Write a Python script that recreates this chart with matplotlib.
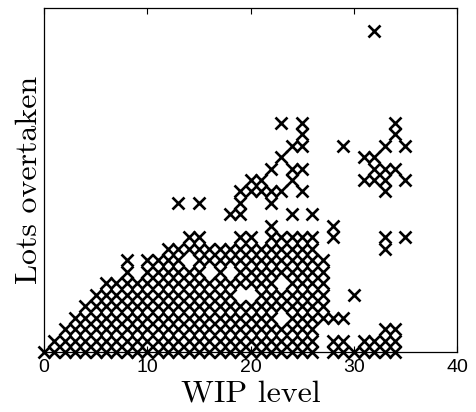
import matplotlib
matplotlib.use("Agg")
import matplotlib.pyplot as plt

# WIP levels on the x axis and, for each, the solid run of "lots overtaken"
# values that were observed (from stack_base up to stack_top, -1 = none).
wip_levels = list(range(36))
stack_base = [0] * 27 + [3] + [0] * 8
stack_top = [0, 1, 2, 3, 4, 5, 6, 6, 8, 6,
             8, 8, 9, 9, 10, 10, 9, 9, 9, 10,
             10, 9, 10, 10, 10, 10, 10, 8, -1, -1,
             -1, -1, -1, -1, -1, -1]

# gaps inside the solid runs
holes = [(14, 8), (16, 7), (18, 7), (19, 5), (20, 5), (23, 3), (23, 6)]

# scattered observations outside the solid runs
extra_wip = [13, 15,
             18, 19, 19, 19, 20, 20, 21, 21, 22, 22, 22, 22, 23, 23, 23,
             24, 24, 24, 24, 25, 25, 25, 25, 25, 26,
             28, 28, 28, 28, 28,
             29, 29, 29, 29,
             30, 30,
             31, 31, 31, 31,
             32, 32, 32, 32, 32, 32,
             33, 33, 33, 33, 33, 33, 33, 33, 33,
             34, 34, 34, 34, 34, 34,
             35, 35, 35]
extra_lots = [13, 13,
              12, 12, 13, 14, 14, 15, 14, 15, 11, 13, 14, 16, 14, 17, 20,
              12, 15, 16, 18, 14, 16, 18, 19, 20, 12,
              0, 1, 3, 10, 11,
              0, 1, 3, 18,
              0, 5,
              0, 1, 15, 17,
              0, 1, 15, 16, 17, 28,
              0, 1, 2, 9, 10, 14, 15, 16, 18,
              0, 1, 2, 16, 19, 20,
              10, 15, 18]

xs, ys = [], []
for w, lo, hi in zip(wip_levels, stack_base, stack_top):
    for v in range(lo, hi + 1):
        if (w, v) not in holes:
            xs.append(w)
            ys.append(v)
xs += extra_wip
ys += extra_lots

fig = plt.figure(figsize=(4.76, 4.12), dpi=100)
ax = fig.add_axes([44 / 476, 60 / 412, 413 / 476, 344 / 412])
ax.plot(xs, ys, linestyle="none", marker="x", markersize=8.8,
        markeredgewidth=1.9, color="black", clip_on=False, zorder=3)

ax.set_xlim(0, 40)
ax.set_ylim(0, 30)
ax.set_xticks([0, 10, 20, 30, 40])
ax.tick_params(axis="x", direction="in", top=True, length=4, width=0.8,
               pad=5, labelsize=14)
ax.tick_params(axis="y", left=False, labelleft=False)
for lab in ax.get_xticklabels():
    lab.set_fontfamily("Liberation Sans")
for sp in ax.spines.values():
    sp.set_linewidth(0.9)

ax.set_xlabel("WIP level", fontfamily="cmr10", fontsize=23, labelpad=3)
ax.set_ylabel("Lots overtaken", fontfamily="cmr10", fontsize=23, labelpad=1)

fig.savefig("out.png", dpi=100)
